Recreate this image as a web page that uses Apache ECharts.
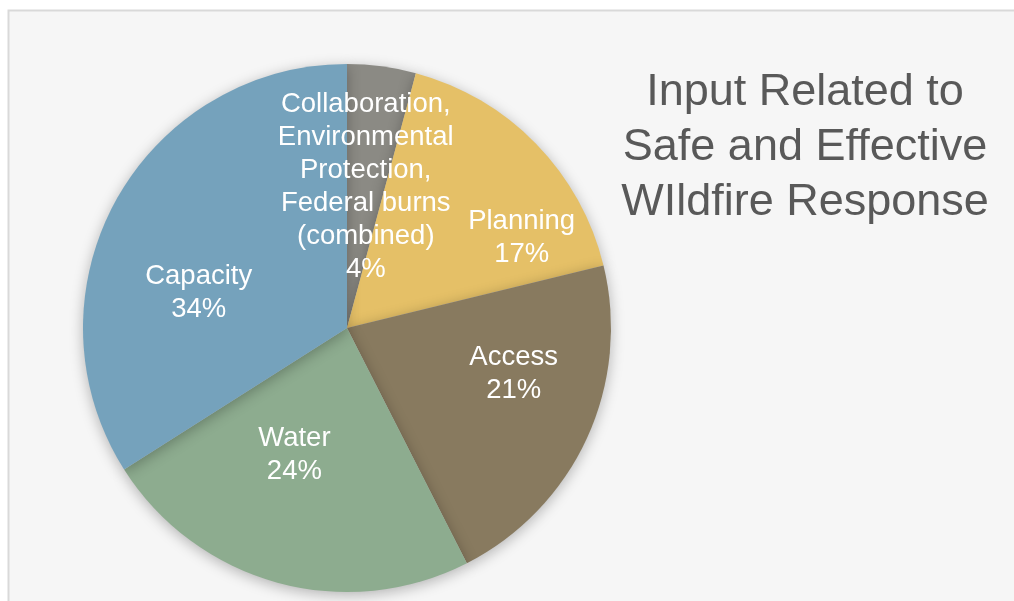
<!DOCTYPE html>
<html><head><meta charset="utf-8">
<script src="https://cdn.jsdelivr.net/npm/echarts@6/dist/echarts.min.js"></script>
<style>html,body{margin:0;padding:0;background:#fff}#c{width:1014px;height:601px}</style>
</head><body><div id="c"></div>
<script>
const categories = ['Collaboration,\nEnvironmental\nProtection,\nFederal burns\n(combined)', 'Planning', 'Access', 'Water', 'Capacity'];
const values = [4.2, 17.0, 21.3, 23.5, 34.0];
const colors = ['#8B8A84', '#E5C067', '#887A5F', '#8DAC8F', '#75A2BC'];
const labelOffsets = [[1, -7], [78, 4], [44, -10], [-17, -3], [-30, 30]];
const titleText = 'Input Related to\nSafe and Effective\nWIldfire Response';

const chart = echarts.init(document.getElementById('c'), null, {renderer: 'canvas'});
chart.setOption({
  backgroundColor: '#ffffff',
  animation: false,
  graphic: [{
    type: 'rect', z: -10, silent: true,
    shape: {x: 8.5, y: 10.5, width: 1020, height: 600},
    style: {fill: '#f6f6f6', stroke: '#d9d9d9', lineWidth: 2}
  }],
  title: {
    text: titleText,
    left: 800, top: 60, textAlign: 'center',
    textStyle: {fontFamily: 'Liberation Sans', fontSize: 45, fontWeight: 'normal', color: '#595959', lineHeight: 55}
  },
  series: [{
    type: 'pie',
    center: [347, 328],
    radius: [0, 264],
    startAngle: 90,
    clockwise: true,
    avoidLabelOverlap: false,
    itemStyle: {shadowBlur: 14, shadowColor: 'rgba(0,0,0,0.28)', shadowOffsetY: 3, borderWidth: 0},
    label: {
      show: true, position: 'inside',
      formatter: p => p.name + '\n' + Math.round(p.value) + '%',
      color: '#ffffff', fontFamily: 'Liberation Sans', fontSize: 27.5, lineHeight: 33
    },
    labelLine: {show: false},
    emphasis: {disabled: true},
    data: categories.map((c, i) => ({
      name: c, value: values[i],
      itemStyle: {color: colors[i]},
      label: {offset: labelOffsets[i]}
    }))
  }]
});
</script></body></html>
